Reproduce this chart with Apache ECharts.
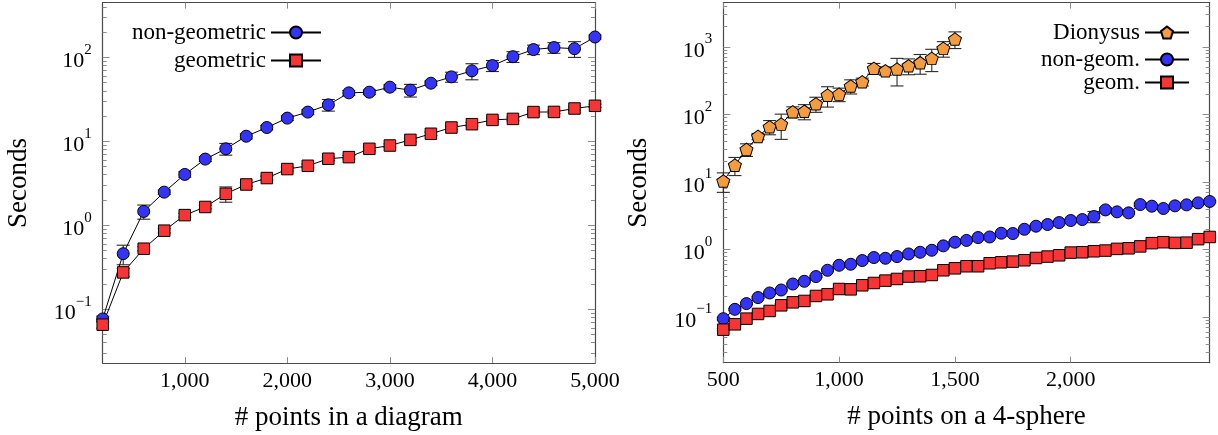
<!DOCTYPE html>
<html>
<head>
<meta charset="utf-8">
<script src="https://cdn.jsdelivr.net/npm/echarts@6/dist/echarts.min.js"></script>
<style>html,body{margin:0;padding:0;background:#fff;}#c{width:1218px;height:435px;}</style>
</head>
<body>
<div id="c"></div>
<script>
// ---------- Left chart data ----------
const leftX = [200,400,600,800,1000,1200,1400,1600,1800,2000,2200,2400,2600,2800,3000,3200,3400,3600,3800,4000,4200,4400,4600,4800,5000];
const nonGeomLeft = [0.0764,0.458,1.46,2.48,4.03,6.14,8.14,11.5,14.6,18.9,22.3,27.2,37.8,38.5,44.2,40.7,49.3,58.6,69.1,79.9,102,124,131,127,175];
const nonGeomLeftErr = [0.006,0.12,0.28,0.15,0.3,0.4,1.3,0.8,0.9,1.2,1.5,4.3,2.5,2.5,3,7,3,8,15,12,15,16,19,27,10];
const geomLeft = [0.0653,0.274,0.525,0.861,1.32,1.65,2.37,3.06,3.65,4.67,5.11,6.20,6.48,8.14,8.91,10.4,12.3,14.6,16.0,18.0,18.5,22.3,22.4,24.6,26.5];
const geomLeftErr = [0.006,0.03,0.03,0.05,0.07,0.08,0.49,0.15,0.2,0.25,0.25,0.3,0.3,0.4,0.4,0.5,0.6,0.7,0.8,0.9,1.0,1.0,1.0,1.2,1.2];
const leftXTicks = [1000,2000,3000,4000,5000];
const leftXTickLabels = ['1,000','2,000','3,000','4,000','5,000'];
const leftYTicks = [0.1,1,10,100];
const leftYTickExp = ['\u22121','0','1','2'];

// ---------- Right chart data ----------
const rightX = [500,550,600,650,700,750,800,850,900,950,1000,1050,1100,1150,1200,1250,1300,1350,1400,1450,1500,1550,1600,1650,1700,1750,1800,1850,1900,1950,2000,2050,2100,2150,2200,2250,2300,2350,2400,2450,2500,2550,2600];
const dionysus = [10.3,17.7,30.2,47.1,65.3,71.6,109,111,143,192,199,262,303,479,441,468,523,580,673,946,1300];
const dionysusErr = [3.3,5.3,6.4,5,15.5,29,20,28,36,64,45,62,40,87,62,205,138,188,244,245,360];
const nonGeomRight = [0.0946,0.130,0.158,0.194,0.227,0.251,0.308,0.338,0.397,0.492,0.583,0.604,0.685,0.759,0.741,0.785,0.858,0.909,0.973,1.13,1.28,1.36,1.50,1.53,1.74,1.72,1.99,2.21,2.34,2.50,2.68,2.77,3.07,3.85,3.60,3.48,4.62,4.37,4.04,4.42,4.57,4.89,5.13];
const nonGeomRightErr = [0.004,0.004,0.005,0.006,0.007,0.008,0.009,0.01,0.012,0.015,0.018,0.018,0.02,0.022,0.022,0.024,0.026,0.028,0.03,0.034,0.04,0.04,0.045,0.046,0.05,0.05,0.06,0.07,0.07,0.08,0.08,0.08,0.58,0.3,0.2,0.1,0.25,0.13,0.12,0.13,0.14,0.15,0.15];
const geomRight = [0.0650,0.0780,0.0946,0.111,0.123,0.149,0.165,0.173,0.205,0.217,0.260,0.257,0.295,0.319,0.346,0.366,0.397,0.401,0.419,0.492,0.526,0.564,0.564,0.625,0.646,0.661,0.692,0.748,0.785,0.820,0.899,0.909,0.940,0.963,1.02,1.04,1.11,1.24,1.28,1.25,1.26,1.42,1.53];
const geomRightErr = [0.002,0.002,0.003,0.003,0.004,0.01,0.005,0.005,0.006,0.006,0.008,0.008,0.009,0.01,0.01,0.011,0.012,0.012,0.013,0.015,0.016,0.017,0.017,0.019,0.02,0.02,0.021,0.022,0.024,0.025,0.027,0.027,0.028,0.03,0.03,0.03,0.033,0.037,0.038,0.038,0.038,0.043,0.046];
const rightXTicks = [500,1000,1500,2000];
const rightXTickLabels = ['500','1,000','1,500','2,000'];
const rightYTicks = [0.1,1,10,100,1000];
const rightYTickExp = ['\u22121','0','1','2','3'];

// ---------- axis ranges ----------
const leftXRange = [200,5000];
const leftYRange = [0.02275,448.7];
const rightXRange = [500,2600];
const rightYRange = [0.02109,4487];

// ---------- styling ----------
const FONT = '"Liberation Serif","Times New Roman",serif';
const BLUE = '#3434f8', RED = '#f83434', ORANGE = '#f59c3e';
const PENTAGON = 'path://M50 0 L97.55 34.55 L79.39 90.45 L20.61 90.45 L2.45 34.55 Z';
const frameColor = '#4a4a4a', tickColor = '#8c8c8c';

function minorTicks(range){
  const out = [];
  for (let e = -3; e <= 4; e++) {
    for (let m = 2; m <= 9; m++) {
      const v = m * Math.pow(10, e);
      if (v > range[0] && v < range[1]) out.push(v);
    }
  }
  return out;
}
function errData(xs, ys, es){ return xs.slice(0, ys.length).map((x,i)=>[x, ys[i]-es[i], ys[i]+es[i]]); }
function lineData(xs, ys){ return ys.map((y,i)=>[xs[i], y]); }
function expIndex(ticks, v){ return ticks.findIndex(t => Math.abs(Math.log10(t) - Math.log10(v)) < 1e-6); }

function errRender(params, api){
  const x = api.value(0), lo = api.value(1), hi = api.value(2);
  const p1 = api.coord([x, lo]), p2 = api.coord([x, hi]);
  const w = 6.5;
  const st = {stroke:'#2a2a2a', lineWidth:1.1};
  return {type:'group', children:[
    {type:'line', shape:{x1:p1[0],y1:p1[1],x2:p2[0],y2:p2[1]}, style:st},
    {type:'line', shape:{x1:p1[0]-w,y1:p1[1],x2:p1[0]+w,y2:p1[1]}, style:st},
    {type:'line', shape:{x1:p2[0]-w,y1:p2[1],x2:p2[0]+w,y2:p2[1]}, style:st}
  ]};
}

const tickLabelStyle = {fontFamily:FONT, fontSize:22, color:'#000'};
const nameStyle = {fontFamily:FONT, fontSize:27, color:'#000'};
const richY = {
  b:{fontFamily:FONT, fontSize:22, color:'#000', lineHeight:30, verticalAlign:'bottom'},
  s:{fontFamily:FONT, fontSize:15, color:'#000', lineHeight:16, verticalAlign:'top'}
};

function xAxes(grid, range, ticks, labels, name){
  const common = {type:'value', gridIndex:grid, min:range[0], max:range[1], splitLine:{show:false},
    axisLine:{show:true, onZero:false, lineStyle:{color:frameColor, width:1.2}}};
  return [
    Object.assign({}, common, {position:'bottom',
      axisTick:{show:true, inside:true, length:6, customValues:ticks, lineStyle:{color:tickColor}},
      axisLabel:Object.assign({show:true, margin:7, customValues:ticks,
        formatter:v => labels[ticks.indexOf(v)]}, tickLabelStyle),
      name:name, nameLocation:'middle', nameGap:41, nameTextStyle:nameStyle, nameMoveOverlap:false}),
    Object.assign({}, common, {position:'top',
      axisTick:{show:true, inside:true, length:6, customValues:ticks, lineStyle:{color:tickColor}},
      axisLabel:{show:false}})
  ];
}
function yAxes(grid, range, ticks, exps, nameGap){
  const common = {type:'log', logBase:10, gridIndex:grid, min:range[0], max:range[1], splitLine:{show:false}};
  const minors = minorTicks(range);
  return [
    Object.assign({}, common, {position:'left',
      axisLine:{show:true, onZero:false, lineStyle:{color:frameColor, width:1.2}},
      axisTick:{show:true, inside:true, length:7, customValues:ticks, lineStyle:{color:tickColor}},
      axisLabel:{show:true, margin:11, customValues:ticks, rich:richY,
        formatter:v => '{b|10}{s|' + exps[expIndex(ticks, v)] + '}'},
      name:'Seconds', nameLocation:'middle', nameGap:nameGap, nameTextStyle:nameStyle, nameMoveOverlap:false}),
    Object.assign({}, common, {position:'right',
      axisLine:{show:true, onZero:false, lineStyle:{color:frameColor, width:1.2}},
      axisTick:{show:true, inside:true, length:7, customValues:ticks, lineStyle:{color:tickColor}},
      axisLabel:{show:false}}),
    Object.assign({}, common, {position:'left',
      axisLine:{show:false},
      axisTick:{show:true, inside:true, length:4, customValues:minors, lineStyle:{color:tickColor}},
      axisLabel:{show:false}}),
    Object.assign({}, common, {position:'right',
      axisLine:{show:false},
      axisTick:{show:true, inside:true, length:4, customValues:minors, lineStyle:{color:tickColor}},
      axisLabel:{show:false}})
  ];
}

function lineSeries(name, xi, yi, xs, ys, symbol, size, color){
  return {type:'line', name:name, xAxisIndex:xi, yAxisIndex:yi, data:lineData(xs, ys),
    symbol:symbol, symbolSize:size, showSymbol:true, z:5,
    lineStyle:{color:'#000', width:1},
    itemStyle:{color:color, borderColor:'#000', borderWidth:1, opacity:1}};
}
function errSeries(name, xi, yi, xs, ys, es){
  return {type:'custom', name:name, xAxisIndex:xi, yAxisIndex:yi, data:errData(xs, ys, es),
    encode:{x:0, y:[1,2]}, renderItem:errRender, z:3, silent:true};
}

function legendRow(name, right, top, w){
  return {data:[name], orient:'vertical', align:'right', right:right, top:top, padding:0,
    itemWidth:w, itemHeight:15,
    textStyle:{fontFamily:FONT, fontSize:23, color:'#000'}};
}

const chart = echarts.init(document.getElementById('c'), null, {renderer:'canvas'});
chart.setOption({
  animation:false,
  backgroundColor:'#fff',
  grid:[
    {left:102.7, top:2.7, width:492.3, height:360.4, containLabel:false, outerBoundsMode:'none'},
    {left:723.3, top:2.7, width:486.4, height:360.0, containLabel:false, outerBoundsMode:'none'}
  ],
  xAxis: xAxes(0, leftXRange, leftXTicks, leftXTickLabels, '# points in a diagram')
    .concat(xAxes(1, rightXRange, rightXTicks, rightXTickLabels, '# points on a 4-sphere')),
  yAxis: yAxes(0, leftYRange, leftYTicks, leftYTickExp, 70)
    .concat(yAxes(1, rightYRange, rightYTicks, rightYTickExp, 71)),
  legend:[
    legendRow('non-geometric', 896, 21, 50),
    legendRow('geometric', 896, 49, 50),
    legendRow('Dionysus', 28, 21, 44),
    legendRow('non-geom.', 28, 48, 44),
    legendRow('geom.', 28, 71, 44)
  ],
  series:[
    errSeries('e1', 0, 0, leftX, nonGeomLeft, nonGeomLeftErr),
    errSeries('e2', 0, 0, leftX, geomLeft, geomLeftErr),
    lineSeries('non-geometric', 0, 0, leftX, nonGeomLeft, 'circle', 12, BLUE),
    lineSeries('geometric', 0, 0, leftX, geomLeft, 'rect', 11.5, RED),
    errSeries('e3', 2, 4, rightX, dionysus, dionysusErr),
    errSeries('e4', 2, 4, rightX, nonGeomRight, nonGeomRightErr),
    errSeries('e5', 2, 4, rightX, geomRight, geomRightErr),
    lineSeries('Dionysus', 2, 4, rightX, dionysus, PENTAGON, [13,12.5], ORANGE),
    lineSeries('non-geom.', 2, 4, rightX, nonGeomRight, 'circle', 12, BLUE),
    lineSeries('geom.', 2, 4, rightX, geomRight, 'rect', 11.5, RED)
  ]
});
</script>
</body>
</html>
